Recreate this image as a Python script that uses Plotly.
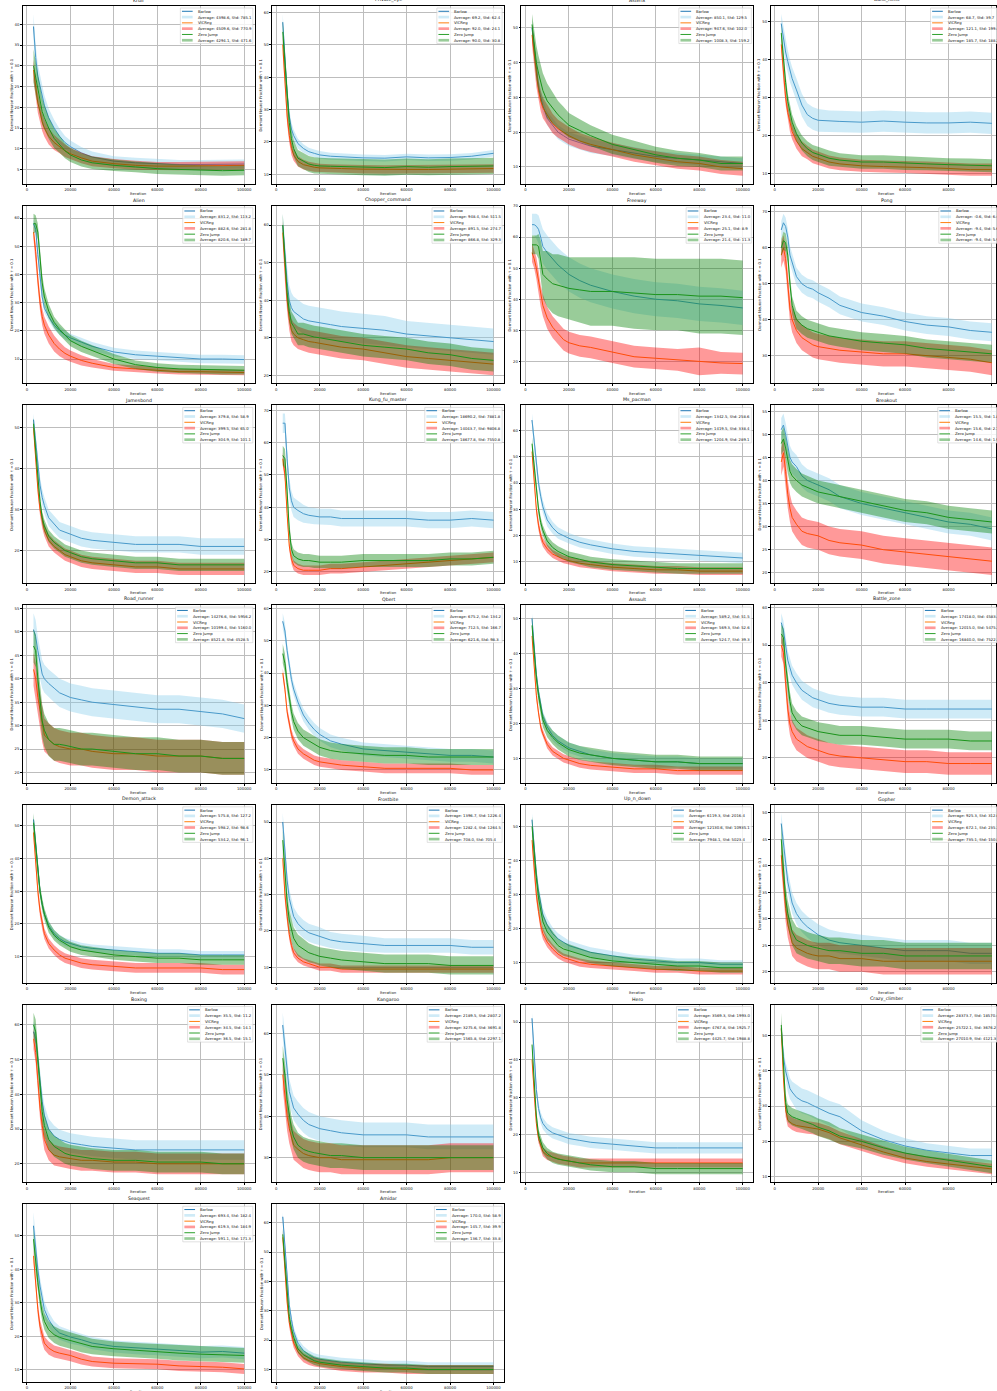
import plotly.graph_objects as go

W, H = 997, 1391

X = [3000, 4000, 5000, 6000, 7000, 8000, 10000, 12500, 15000, 17500,
     20000, 25000, 30000, 40000, 50000, 60000, 70000, 80000, 90000, 100000]
X_TICKS = [0, 20000, 40000, 60000, 80000, 100000]
SERIES = ["Barlow", "VICReg", "Zero Jump"]
LINE_COLORS = ["#1f77b4", "#ff7f0e", "#2ca02c"]
BAND_COLORS = ["rgba(135,206,235,0.4)", "rgba(255,0,0,0.4)", "rgba(0,128,0,0.4)"]
Y_LABEL = "Dormant Neuron Fraction with τ = 0.1"

# ---------------- data (mean curves, std half-widths, legend stats) ----------------
krull_b = [39.5, 32, 27.5, 25, 23, 20.5, 17.5, 15, 13, 11.5, 10.5, 9, 8, 7, 6.6, 6.4, 6.2, 6.2, 6.2, 6.3]
krull_b_sd = [3, 3, 2.8, 2.6, 2.5, 2.4, 2.2, 2, 1.8, 1.6, 1.5, 1.4, 1.3, 1.2, 1.2, 1.1, 1.1, 1.1, 1.1, 1.1]
krull_v = [29, 25, 21, 19, 16.5, 15, 13, 11.5, 10.5, 9.5, 8.8, 7.8, 7, 6.4, 6, 5.8, 5.8, 5.9, 6, 6]
krull_v_sd = [2.5, 2.5, 2.4, 2.3, 2.2, 2.1, 2, 1.8, 1.6, 1.5, 1.4, 1.3, 1.2, 1.1, 1.1, 1, 1, 1, 1, 1]
krull_z = [30, 27, 24, 21.5, 19, 17.5, 15, 12.5, 11, 9.5, 8.5, 7.3, 6.6, 6, 5.6, 5.2, 5, 4.8, 4.7, 4.8]
krull_z_sd = [4, 4, 3.8, 3.5, 3.2, 3, 2.6, 2.3, 2, 1.8, 1.7, 1.6, 1.5, 1.4, 1.3, 1.3, 1.2, 1.2, 1.2, 1.2]
krull_stats = [(4398.6, 785.1), (4509.6, 770.9), (4294.1, 471.6)]

private_eye_b = [57, 45, 35, 28, 24, 22, 19.5, 18, 17, 16.5, 16, 15.6, 15.4, 15.1, 15, 15.4, 15.1, 15.2, 15.6, 16.5]
private_eye_b_sd = [2.5, 2.5, 2.3, 2, 2, 1.8, 1.5, 1.3, 1.2, 1.2, 1.2, 1.1, 1.1, 1, 1, 1, 1, 1, 1, 1]
private_eye_v = [50, 38, 28, 22, 18, 16, 14, 13, 12.5, 12.2, 12, 11.8, 11.8, 11.6, 11.5, 11.6, 11.5, 11.6, 11.7, 11.8]
private_eye_v_sd = [3, 3, 2.5, 2.2, 2, 1.8, 1.6, 1.5, 1.4, 1.4, 1.3, 1.3, 1.3, 1.3, 1.3, 1.3, 1.3, 1.3, 1.3, 1.3]
private_eye_z = [54, 44, 33, 26, 21, 18, 15, 14, 13.2, 12.8, 12.6, 12.5, 12.4, 12.2, 12.1, 12.4, 12.2, 12.4, 12.5, 12.6]
private_eye_z_sd = [3.5, 3.5, 3.3, 3, 2.8, 2.6, 2.5, 2.5, 2.5, 2.5, 2.5, 2.5, 2.5, 2.5, 2.5, 2.5, 2.5, 2.5, 2.5, 2.5]
private_eye_stats = [(69.2, 62.4), (92.0, 24.1), (90.0, 30.8)]

asterix_b = [50, 44, 38, 33, 30, 27.5, 24, 22, 20, 19, 18, 17, 16, 15, 14, 13, 12.5, 12, 11.5, 11]
asterix_b_sd = [2, 2, 2, 2, 2, 2, 2, 2, 2, 2, 2, 2, 2, 1.8, 1.7, 1.6, 1.5, 1.5, 1.5, 1.5]
asterix_v = [48, 42, 36, 32, 29, 27, 25, 22.5, 21, 20, 19, 17.5, 16.5, 15, 13.5, 12.5, 11.5, 11, 10, 9.5]
asterix_v_sd = [3, 3, 3, 3, 3, 3, 3, 2.8, 2.6, 2.5, 2.5, 2.3, 2.2, 2, 2, 2, 2, 2, 2, 2]
asterix_z = [51, 45, 40, 37, 34, 32, 29, 27, 25, 23.5, 22, 20.5, 19, 16.5, 15, 13.5, 12.5, 12, 11, 11]
asterix_z_sd = [3, 4, 5, 5, 5, 5, 5, 4.5, 4, 3.8, 3.5, 3.2, 3, 2.8, 2.5, 2.3, 2.2, 2, 2, 2]
asterix_stats = [(850.1, 129.5), (947.6, 102.0), (1008.3, 159.2)]

bank_heist_b = [49.5, 45.5, 42, 39.5, 37, 35, 32, 28, 25.5, 24.5, 24, 23.8, 23.7, 23.5, 23.8, 23.5, 23.3, 23.3, 23.5, 23.2]
bank_heist_b_sd = [2.5, 3, 3, 3, 3, 3, 3, 3, 3, 3, 3, 2.8, 2.8, 2.8, 2.8, 2.8, 2.8, 2.8, 2.8, 2.8]
bank_heist_v = [44, 36, 30, 26, 23, 21, 18.5, 16.5, 15.5, 14.5, 14, 13, 12.5, 12, 11.8, 11.7, 11.5, 11.3, 11, 11]
bank_heist_v_sd = [2, 2, 2, 2, 2, 2, 2, 2, 1.8, 1.8, 1.8, 1.7, 1.7, 1.6, 1.6, 1.6, 1.6, 1.6, 1.6, 1.6]
bank_heist_z = [47, 40, 34, 29, 26, 23.5, 20.5, 18, 16.5, 15.5, 15, 14, 13.5, 13, 13, 12.7, 12.5, 12.3, 12.2, 12]
bank_heist_z_sd = [2, 2, 2, 2, 2, 2, 2, 2, 2, 2, 2, 2, 1.8, 1.8, 1.8, 1.8, 1.7, 1.7, 1.7, 1.7]
bank_heist_stats = [(68.7, 39.7), (121.1, 199.4), (185.7, 188.2)]

alien_b = [58, 56, 47, 38, 32, 28, 25, 22, 20, 18.5, 17.5, 16, 14.5, 12.5, 11.5, 11, 10.5, 10, 10, 9.8]
alien_b_sd = [1.5, 1.5, 1.5, 1.5, 1.5, 1.5, 1.5, 1.5, 1.5, 1.5, 1.5, 1.5, 1.5, 1.5, 1.5, 1.5, 1.5, 1.5, 1.5, 1.5]
alien_v = [55, 48, 38, 30, 25, 22, 18.5, 15.5, 13.5, 12, 11, 9.5, 8.5, 7, 6.5, 6, 5.5, 5.5, 5.3, 5.2]
alien_v_sd = [2.5, 3, 3, 3, 3, 3, 3, 2.8, 2.5, 2.2, 2, 1.8, 1.5, 1.2, 1.2, 1.1, 1, 1, 1, 1]
alien_z = [58, 58, 55, 45, 37, 32, 27, 23, 20.5, 18.5, 16.5, 14.5, 13, 10, 8, 7, 6.5, 6.3, 6, 6]
alien_z_sd = [3.5, 3, 3, 3, 3, 3, 2.5, 2, 2, 2, 2, 2, 2, 1.8, 1.5, 1.5, 1.5, 1.5, 1.5, 1.5]
alien_stats = [(831.2, 113.2), (882.6, 281.8), (820.6, 189.7)]

chopper_b = [60, 52, 45, 40, 38, 37, 36, 35, 34.5, 34.2, 34, 33.5, 33, 32.5, 32, 31, 30.5, 30, 29.5, 29]
chopper_b_sd = [3, 3.5, 4, 4, 4, 4, 4, 4, 4, 4, 4, 4, 4, 4, 3.8, 3.5, 3.5, 3.5, 3.5, 3.5]
chopper_v = [58, 48, 40, 35, 32, 31, 30, 29.5, 29, 28.8, 28.5, 28, 27.5, 27, 26, 25, 24.5, 24, 23.5, 23]
chopper_v_sd = [3, 3, 3, 3, 3, 3, 3, 3, 3, 3, 3, 3, 3, 3, 3, 3, 3, 3, 3, 3]
chopper_z = [60, 52, 42, 37, 34, 33, 31, 31, 30.5, 30.2, 30, 29.5, 29, 28, 27.5, 27, 26, 25.5, 24.5, 24]
chopper_z_sd = [3, 3, 3, 3, 3, 3, 3, 3, 3, 3, 3, 3, 3, 3, 3, 3, 3, 3, 3, 3]
chopper_stats = [(948.4, 511.5), (891.5, 274.7), (866.8, 329.3)]

freeway_b = [64, 64, 63.5, 62.5, 60, 57, 55, 53, 51, 49.5, 48, 46, 44.5, 42.5, 41, 40, 39.5, 38.5, 38, 37.2]
freeway_b_sd = [3.5, 3.5, 4, 4.5, 5, 5.5, 5.5, 5.5, 5.5, 5.5, 5.5, 5.5, 5.5, 5.5, 5.5, 5.5, 5.5, 5.5, 5.5, 5.5]
freeway_v = [55, 53, 50, 46, 41, 38, 34, 31, 29, 27, 26, 25, 24.5, 23, 21.5, 21, 20.5, 20, 19.5, 19.3]
freeway_v_sd = [3, 3, 3.5, 3.5, 3.5, 3.5, 3.5, 3.5, 3.5, 3.5, 3.5, 3.5, 3.5, 3.5, 3.5, 3.5, 3.5, 4.5, 3.5, 3.5]
freeway_z = [57.5, 57.5, 57.5, 57, 53, 48, 46.5, 45, 44.5, 44, 43.5, 43, 42.5, 42.5, 42, 41.5, 41.5, 41, 41, 40.5]
freeway_z_sd = [3, 3, 3, 4, 6, 7.5, 9, 9.5, 10, 10, 10, 10.5, 11, 11, 11.5, 11.5, 11.5, 12, 12, 12]
freeway_stats = [(23.4, 11.0), (25.1, 8.9), (21.4, 11.3)]

pong_b = [65, 67, 66, 63, 58, 56, 52, 50, 49, 48.5, 47.5, 46, 44, 42, 41, 39.5, 38.5, 38, 37, 36.5]
pong_b_sd = [2.5, 2.5, 2.5, 2.5, 2.5, 2.5, 2.5, 2.5, 2.5, 2.5, 2.5, 2.5, 2.5, 2.5, 2.5, 2.5, 2.5, 2.5, 2.5, 2.5]
pong_v = [58, 60, 57, 50, 43, 40, 37, 35, 34, 33, 32.5, 32, 31.5, 31, 30.5, 30.5, 30, 29.5, 29, 28]
pong_v_sd = [3.5, 3.5, 3.5, 3.5, 3.5, 3.5, 3.5, 3.5, 3.5, 3.5, 3.5, 3.5, 3.5, 3.5, 3.5, 3.5, 3.5, 3.5, 3.5, 3.5]
pong_z = [60, 62, 61.5, 58, 50, 44, 40, 38.5, 37.5, 37, 36.5, 35.5, 35, 34, 33.5, 33, 32, 31.5, 31, 30.5]
pong_z_sd = [2.5, 2.5, 2.5, 2.5, 2.5, 2.5, 2.5, 2.5, 2.5, 2.5, 2.5, 2.5, 2.5, 2.5, 2.5, 2.5, 2.5, 2.5, 2.5, 2.5]
pong_stats = [(-0.6, 6.4), (-9.4, 5.6), (-9.4, 5.9)]

jamesbond_b = [52, 46, 40, 36, 33, 31, 28, 26.5, 25, 24.5, 24, 23, 22.5, 22, 21.5, 21.5, 21.5, 21, 21, 21]
jamesbond_b_sd = [1.5, 2, 2, 2, 2, 2, 2, 2, 2, 2, 2, 2, 2, 2, 2, 2, 2, 2, 2, 2]
jamesbond_v = [50, 42, 35, 30, 27, 25, 22.5, 21, 20, 19, 18.5, 17.5, 17, 16.5, 16, 16, 15.5, 15.5, 15.5, 15.5]
jamesbond_v_sd = [1.5, 1.5, 1.5, 1.5, 1.5, 1.5, 1.5, 1.5, 1.5, 1.5, 1.5, 1.5, 1.5, 1.5, 1.5, 1.5, 1.5, 1.5, 1.5, 1.5]
jamesbond_z = [51, 44, 37, 32, 28, 26, 23.5, 22, 21, 20, 19.5, 18.5, 18, 17.5, 17, 17, 16.5, 16.5, 16.5, 16.5]
jamesbond_z_sd = [1.5, 1.5, 1.5, 1.5, 1.5, 1.5, 1.5, 1.5, 1.5, 1.5, 1.5, 1.5, 1.5, 1.5, 1.5, 1.5, 1.5, 1.5, 1.5, 1.5]
jamesbond_stats = [(379.8, 58.9), (399.5, 65.0), (304.9, 101.1)]

kungfu_b = [66, 66, 55, 46, 42, 40, 39, 38, 37.5, 37.2, 37, 37, 36.5, 36.5, 36.5, 36.5, 36, 36, 36.5, 36]
kungfu_b_sd = [3, 3, 3, 3, 3, 3, 3, 2.8, 2.5, 2.5, 2.5, 2.5, 2.5, 2.5, 2.5, 2.5, 2.5, 2.5, 2.5, 2.5]
kungfu_v = [55, 50, 38, 28, 24, 22, 21, 20.5, 20.5, 20.5, 20.5, 21, 21, 21.5, 22, 22.5, 23, 23.5, 24, 24.5]
kungfu_v_sd = [2, 2, 2, 1.5, 1.5, 1.5, 1.5, 1.5, 1.5, 1.5, 1.5, 1.5, 1.5, 1.5, 1.5, 1.5, 1.5, 1.5, 1.5, 1.5]
kungfu_z = [56, 55, 45, 33, 27, 25, 24, 23.5, 23.5, 23.2, 23, 23, 23, 23.5, 23.5, 23.5, 23.5, 24, 24, 24.5]
kungfu_z_sd = [3, 3, 3, 2.5, 2, 2, 2, 2, 2, 2, 2, 2, 2, 2, 2, 2, 2, 2, 2, 2]
kungfu_stats = [(18690.2, 7881.8), (14043.7, 9806.8), (18677.8, 7550.8)]

ms_pacman_b = [64, 56, 47, 40, 35, 31, 26, 23, 21, 20, 19, 17.5, 16.5, 15, 14, 13.5, 13, 12.5, 12, 11.5]
ms_pacman_b_sd = [2.5, 2.5, 2.5, 2.5, 2.5, 2.5, 2.5, 2.3, 2.2, 2.1, 2, 2, 2, 2, 2, 2, 2, 2, 2, 2]
ms_pacman_v = [52, 40, 30, 24, 20, 17.5, 15, 13, 12, 11, 10.5, 9.5, 9, 8, 7.5, 7, 7, 6.5, 6.5, 6.5]
ms_pacman_v_sd = [2.5, 2.5, 2, 2, 1.8, 1.7, 1.6, 1.5, 1.5, 1.5, 1.5, 1.5, 1.5, 1.5, 1.5, 1.5, 1.5, 1.5, 1.5, 1.5]
ms_pacman_z = [55, 46, 37, 30, 25, 22, 18, 15.5, 14, 13, 12, 11, 10, 9, 8.5, 8, 7.5, 7.5, 7.5, 7.5]
ms_pacman_z_sd = [2.5, 2.5, 2.5, 2.2, 2, 2, 2, 2, 2, 2, 2, 2, 2, 2, 2, 2, 2, 2, 2, 2]
ms_pacman_stats = [(1342.5, 258.6), (1419.5, 338.4), (1204.9, 289.1)]

breakout_b = [51, 52, 50, 47, 45, 44, 43, 41, 40, 39.5, 39, 38, 36.5, 35, 34, 33, 32, 31, 30.5, 29.5]
breakout_b_sd = [2.5, 2.5, 2.5, 2.5, 2.5, 2.5, 2.5, 2.5, 2.5, 2.5, 2.5, 2.5, 2.5, 2.5, 2.5, 2.5, 2.5, 2.5, 2.5, 2.5]
breakout_v = [44, 46, 42, 37, 34, 32, 30.5, 29, 28.5, 28.2, 28, 27, 26.5, 26, 25, 24.5, 24, 23.5, 23, 22.5]
breakout_v_sd = [3, 3, 3, 3, 3, 3, 3, 3, 3, 3, 3, 3, 3, 3, 3, 3, 3, 3, 3, 3]
breakout_z = [48, 49, 47, 44, 42, 41, 40, 39, 38.5, 38, 37.5, 37, 36.5, 35.5, 34.5, 33.5, 33, 32, 31.5, 31]
breakout_z_sd = [2.5, 2.5, 2.5, 2.5, 2.5, 2.5, 2.5, 2.5, 2.5, 2.5, 2.5, 2.5, 2.5, 2.5, 2.5, 2.5, 2.5, 2.5, 2.5, 2.5]
breakout_stats = [(15.5, 1.8), (15.6, 2.1), (14.6, 1.9)]

road_runner_b = [50.5, 49, 46, 43, 41, 40, 39, 38, 37, 36.5, 36, 35.5, 35, 34.5, 34, 33.5, 33.5, 33, 32.5, 31.5]
road_runner_b_sd = [3.5, 3.5, 3, 3, 3, 3, 3, 3, 3, 3, 3, 3, 3, 3, 3, 3, 3, 3, 3, 3]
road_runner_v = [42, 40, 36, 33, 30, 28, 27, 26, 25.5, 25.2, 25, 25, 24.5, 24, 24, 23.5, 23.5, 23.5, 23, 23]
road_runner_v_sd = [3.5, 3.5, 3.5, 3.5, 3.5, 3.5, 3.5, 3.5, 3.5, 3.5, 3.5, 3.5, 3.5, 3.5, 3.5, 3.5, 3.5, 3.5, 3.5, 3.5]
road_runner_z = [47, 46, 40, 35, 31, 29, 27, 26, 26, 25.8, 25.5, 25, 25, 24.5, 24, 24, 23.5, 23.5, 23, 23]
road_runner_z_sd = [3.5, 3.5, 3.5, 3.5, 3.5, 3.5, 3.5, 3.5, 3.5, 3.5, 3.5, 3.5, 3.5, 3.5, 3.5, 3.5, 3.5, 3.5, 3.5, 3.5]
road_runner_stats = [(14276.6, 5956.2), (10199.4, 5160.0), (8521.8, 4528.5)]

qbert_b = [56, 53, 47, 42, 38, 35, 31, 27, 24.5, 22.5, 21, 19, 18, 16.5, 16, 15.5, 15, 14.5, 14.5, 14]
qbert_b_sd = [2.5, 2.5, 2, 2, 2, 2, 2, 2, 2, 2, 2, 2, 2, 2, 2, 2, 2, 2, 2, 2]
qbert_v = [40, 35, 28, 24, 21, 19, 16.5, 15, 14, 13, 12.5, 12, 11.5, 11, 10.5, 10.5, 10.5, 10.5, 10, 10]
qbert_v_sd = [1.5, 1.5, 1.5, 1.5, 1.5, 1.5, 1.5, 1.5, 1.5, 1.5, 1.5, 1.5, 1.5, 1.5, 1.5, 1.5, 1.5, 1.5, 1.5, 1.5]
qbert_z = [46, 43, 37, 32, 28, 25, 22, 20, 19, 18, 17, 16, 15.5, 15, 14.5, 14.5, 14, 14, 14, 14]
qbert_z_sd = [3, 3, 2.5, 2.5, 2.5, 2.5, 2.5, 2.5, 2.5, 2.5, 2.5, 2.5, 2.5, 2.5, 2.5, 2.5, 2.5, 2.5, 2.5, 2.5]
qbert_stats = [(675.2, 134.2), (712.5, 166.7), (621.6, 98.3)]

assault_b = [50, 42, 34, 29, 25, 22, 19, 16.5, 15, 14, 13, 12, 11, 10, 9.5, 9, 9, 8.5, 8.5, 8.5]
assault_b_sd = [1.5, 1.5, 1.5, 1.5, 1.5, 1.5, 1.5, 1.5, 1.5, 1.5, 1.5, 1.5, 1.5, 1.5, 1.5, 1.5, 1.5, 1.5, 1.5, 1.5]
assault_v = [45, 36, 28, 23, 19, 17, 14, 12, 11, 10, 9.5, 8.5, 8, 7.5, 7, 7, 6.5, 6.5, 6.5, 6.5]
assault_v_sd = [1.5, 1.5, 1.5, 1.2, 1.2, 1.2, 1.2, 1.2, 1.2, 1.2, 1.2, 1.2, 1.2, 1.2, 1.2, 1.2, 1.2, 1.2, 1.2, 1.2]
assault_z = [48, 40, 33, 28, 24, 21, 18, 16, 14.5, 13.5, 12.5, 11.5, 11, 10, 9.5, 9, 9, 8.5, 8.5, 8.5]
assault_z_sd = [2.5, 2.5, 2.2, 2, 2, 2, 2, 2, 2, 2, 2, 2, 2, 2, 2, 2, 2, 2, 2, 2]
assault_stats = [(589.2, 51.5), (569.3, 52.6), (524.7, 39.3)]

battle_zone_b = [56, 54, 50, 46, 44, 42, 40, 38, 37, 36, 35.5, 34.5, 34, 33.5, 33.5, 33, 33, 33, 33, 33]
battle_zone_b_sd = [2.5, 2.5, 2.5, 2.5, 2.5, 2.5, 2.5, 2.5, 2.5, 2.5, 2.5, 2.5, 2.5, 2.5, 2.5, 2.5, 2.5, 2.5, 2.5, 2.5]
battle_zone_v = [50, 48, 40, 33, 29, 27, 25, 24, 23, 22.5, 22, 21, 20.5, 20, 19.5, 19, 19, 18.5, 18.5, 18.5]
battle_zone_v_sd = [3, 3, 3, 3, 3, 3, 3, 3, 3, 3, 3, 3, 3, 3, 3, 3, 3, 3, 3, 3]
battle_zone_z = [53, 52, 45, 39, 35, 32, 30, 28.5, 28, 27.5, 27, 26.5, 26, 26, 25.5, 25, 25, 25, 24.5, 24.5]
battle_zone_z_sd = [2.5, 2.5, 2.5, 2.5, 2.5, 2.5, 2.5, 2.5, 2.5, 2.5, 2.5, 2.5, 2.5, 2.5, 2.5, 2.5, 2.5, 2.5, 2.5, 2.5]
battle_zone_stats = [(17418.0, 4583.4), (12015.0, 5475.2), (16840.0, 7522.1)]

demon_attack_b = [52, 44, 36, 30, 26, 23, 19.5, 17, 15.5, 14.5, 14, 13, 12.5, 12, 11.5, 11, 11, 10.5, 10.5, 10.5]
demon_attack_b_sd = [1.5, 1.5, 1.5, 1.3, 1.2, 1.2, 1.2, 1.2, 1.2, 1.2, 1.2, 1.2, 1.2, 1.2, 1.2, 1.2, 1.2, 1.2, 1.2, 1.2]
demon_attack_v = [48, 38, 30, 24, 20, 17, 14, 12, 10.5, 9.5, 9, 8, 7.5, 7, 6.5, 6.5, 6.5, 6.5, 6, 6]
demon_attack_v_sd = [2, 2, 2, 1.8, 1.7, 1.6, 1.5, 1.5, 1.5, 1.5, 1.5, 1.5, 1.5, 1.5, 1.5, 1.5, 1.5, 1.5, 1.5, 1.5]
demon_attack_z = [51, 44, 36, 30, 26, 23, 19, 16.5, 15, 14, 13, 12, 11.5, 10.5, 10, 9.5, 9.5, 9, 9, 9]
demon_attack_z_sd = [3, 3, 2.5, 2, 2, 1.8, 1.7, 1.6, 1.5, 1.5, 1.5, 1.5, 1.5, 1.5, 1.5, 1.5, 1.5, 1.5, 1.5, 1.5]
demon_attack_stats = [(575.8, 127.2), (598.2, 98.6), (534.2, 96.1)]

frostbite_b = [50, 42, 34, 29, 26, 24, 22, 20.5, 19.5, 19, 18.5, 17.5, 17, 16.5, 16, 16, 16, 16, 15.5, 15.5]
frostbite_b_sd = [2.5, 2.5, 2.5, 2.5, 2.5, 2.5, 2.5, 2.5, 2.5, 2.5, 2.5, 2.2, 2.2, 2.2, 2, 2, 2, 2, 2, 2]
frostbite_v = [40, 30, 24, 19, 16, 14, 12.5, 11.5, 11, 10.5, 10, 10, 9.5, 9.5, 9.5, 9.5, 9.5, 9.5, 9.5, 9.5]
frostbite_v_sd = [2, 2, 1.8, 1.5, 1.3, 1.2, 1.1, 1, 1, 1, 1, 1, 1, 1, 1, 1, 1, 1, 1, 1]
frostbite_z = [45, 36, 28, 23, 20, 18, 16, 15, 14, 13.5, 13, 12.5, 12, 11.5, 11, 11, 11, 10.5, 10.5, 10.5]
frostbite_z_sd = [3, 3, 3, 3, 3, 3, 3, 2.8, 2.6, 2.5, 2.5, 2.5, 2.5, 2.5, 2.5, 2.5, 2.5, 2.5, 2.5, 2.5]
frostbite_stats = [(1396.7, 1226.4), (1282.4, 1264.5), (708.0, 705.4)]

up_n_down_b = [52, 43, 36, 31, 27, 24, 21, 18.5, 17, 16, 15, 14, 13, 12, 11, 10.5, 10, 10, 9.5, 9.5]
up_n_down_b_sd = [2, 2, 2, 2, 2, 2, 2, 1.8, 1.6, 1.5, 1.5, 1.5, 1.5, 1.4, 1.3, 1.3, 1.2, 1.2, 1.2, 1.2]
up_n_down_v = [46, 37, 30, 25, 21, 18.5, 16, 14, 12.5, 11.5, 11, 10, 9.5, 9, 8.5, 8, 8, 7.5, 7.5, 7.5]
up_n_down_v_sd = [2, 2, 2, 1.8, 1.7, 1.6, 1.5, 1.4, 1.3, 1.2, 1.2, 1.2, 1.1, 1.1, 1, 1, 1, 1, 1, 1]
up_n_down_z = [50, 42, 35, 29, 25, 22, 19, 17, 15, 14, 13.5, 12.5, 11.5, 10.5, 10, 9.5, 9, 9, 8.5, 8.5]
up_n_down_z_sd = [3, 3, 3, 3, 2.8, 2.6, 2.4, 2.2, 2, 2, 2, 1.8, 1.7, 1.6, 1.5, 1.5, 1.5, 1.5, 1.5, 1.5]
up_n_down_stats = [(6119.3, 2016.4), (12130.6, 10935.1), (7948.1, 5023.4)]

gopher_b = [48, 44, 40, 37, 35, 33, 31, 29.5, 28.5, 27.7, 27, 26, 25.5, 25, 24.5, 24, 24, 24, 23.5, 23.5]
gopher_b_sd = [2, 2, 2, 2, 2, 2, 2, 2, 2, 2, 2, 2, 2, 2, 2, 2, 2, 2, 2, 2]
gopher_v = [42, 37, 32, 29, 27, 25.5, 24.5, 24, 23.5, 23.2, 23, 23, 22.5, 22.5, 22, 22, 22, 22, 22, 22]
gopher_v_sd = [2.5, 2.5, 2.5, 2.5, 2.5, 2.5, 2.5, 2.5, 2.5, 2.5, 2.5, 2.5, 2.5, 2.5, 2.5, 2.5, 2.5, 2.5, 2.5, 2.5]
gopher_z = [45, 40, 34, 31, 29, 27.5, 26, 25.5, 25, 24.7, 24.5, 24, 24, 23.5, 23.5, 23, 23, 23, 23, 23]
gopher_z_sd = [3, 3, 2.5, 2.5, 2.5, 2.5, 2.5, 2.5, 2.5, 2.5, 2.5, 2.5, 2.5, 2.5, 2.5, 2.5, 2.5, 2.5, 2.5, 2.5]
gopher_stats = [(925.3, 312.6), (672.1, 235.3), (735.1, 150.8)]

boxing_b = [58, 56, 50, 43, 38, 34, 30, 28, 27, 26.5, 26, 25.5, 25, 24.5, 24, 24, 24, 24, 24, 24]
boxing_b_sd = [3, 3, 3, 3, 3, 3, 3, 3, 2.8, 2.8, 2.8, 2.8, 2.8, 2.8, 2.8, 2.8, 2.8, 2.8, 2.8, 2.8]
boxing_v = [56, 52, 44, 36, 31, 27, 24, 22.5, 22, 21.8, 21.5, 21, 21, 20.5, 20.5, 20, 20, 20, 20, 20]
boxing_v_sd = [3, 3, 3, 3, 3, 3, 3, 3, 3, 3, 3, 3, 3, 3, 3, 3, 3, 3, 3, 3]
boxing_z = [60, 58, 50, 42, 35, 31, 27, 25, 24, 23, 22.5, 22, 21.5, 21, 21, 20.5, 20.5, 20.5, 20, 20]
boxing_z_sd = [3.5, 3.5, 3.5, 3.5, 3.5, 3.2, 3, 3, 3, 3, 3, 3, 3, 3, 3, 3, 3, 3, 3, 3]
boxing_stats = [(35.5, 11.2), (34.5, 14.1), (36.5, 15.1)]

kangaroo_b = [62, 56, 50, 46, 44, 42, 40.5, 39, 38, 37.5, 37, 36.5, 36, 35.5, 35.5, 35.5, 35, 35, 35, 35]
kangaroo_b_sd = [3, 3, 3, 3, 3, 3, 3, 3, 3, 3, 3, 3, 3, 3, 3, 3, 3, 3, 3, 3]
kangaroo_v = [50, 45, 40, 37, 35, 33, 32, 31, 30.5, 30.2, 30, 30, 29.5, 29.5, 29.5, 29.5, 29.5, 30, 30, 30]
kangaroo_v_sd = [3.5, 3.5, 3.5, 3.5, 3.5, 3.5, 3.5, 3.5, 3.5, 3.5, 3.5, 3.5, 3.5, 3.5, 3.5, 3.5, 3.5, 3.5, 3.5, 3.5]
kangaroo_z = [54, 50, 44, 40, 37, 35, 33, 32, 31.5, 31.2, 31, 30.5, 30.5, 30, 30, 30, 30, 30, 30, 30]
kangaroo_z_sd = [3, 3, 3, 3, 3, 3, 3, 3, 3, 3, 3, 3, 3, 3, 3, 3, 3, 3, 3, 3]
kangaroo_stats = [(2189.5, 2807.2), (3275.6, 3691.8), (1565.8, 2297.1)]

hero_b = [51, 40, 32, 27, 24.5, 23, 21.5, 20.5, 20, 19.5, 19, 18.5, 18, 17.5, 17, 16.5, 16.5, 16.5, 16.5, 16.5]
hero_b_sd = [1.5, 1.5, 1.5, 1.5, 1.5, 1.5, 1.5, 1.5, 1.5, 1.5, 1.5, 1.5, 1.5, 1.5, 1.5, 1.5, 1.5, 1.5, 1.5, 1.5]
hero_v = [40, 30, 23, 19, 17, 15.5, 14.5, 14, 13.5, 13.2, 13, 12.5, 12.5, 12.5, 12.5, 12.5, 12.5, 12.5, 12.5, 12.5]
hero_v_sd = [1.2, 1.2, 1.2, 1.2, 1.2, 1.2, 1.2, 1.2, 1.2, 1.2, 1.2, 1.2, 1.2, 1.2, 1.2, 1.2, 1.2, 1.2, 1.2, 1.2]
hero_z = [44, 33, 25, 20, 18, 16.5, 15, 14, 13.5, 13.2, 13, 12.5, 12, 11.5, 11.5, 11, 11, 11, 11, 11]
hero_z_sd = [1.5, 1.5, 1.5, 1.5, 1.5, 1.5, 1.5, 1.5, 1.5, 1.5, 1.5, 1.5, 1.5, 1.5, 1.5, 1.5, 1.5, 1.5, 1.5, 1.5]
hero_stats = [(3569.3, 1993.0), (4767.8, 1925.7), (4425.7, 1988.8)]

crazy_climber_b = [52, 44, 40, 37, 35, 34, 32.5, 31.5, 31, 30.2, 29.5, 28, 27, 23, 20.5, 18.7, 17.5, 16.7, 16, 16]
crazy_climber_b_sd = [2, 2.5, 2.5, 3, 3, 3, 3.5, 3.5, 3.5, 3.5, 3.5, 3.5, 3.5, 3, 2.5, 2.2, 2, 2, 2, 2]
crazy_climber_v = [52, 38, 29, 26, 25.5, 25, 24.5, 24.2, 24, 23.8, 23.5, 22.5, 21, 19, 17, 15.3, 14.3, 13.6, 13, 12.2]
crazy_climber_v_sd = [2, 2, 2, 1.8, 1.8, 1.8, 1.8, 1.8, 1.8, 1.8, 1.8, 1.8, 1.8, 1.7, 1.6, 1.5, 1.5, 1.5, 1.5, 1.5]
crazy_climber_z = [53, 42, 31, 28, 27.5, 27, 26.5, 26, 25.5, 24.8, 24, 23, 21.5, 20, 18.2, 16.7, 15.6, 14.7, 13.7, 12.8]
crazy_climber_z_sd = [3.5, 3, 2.5, 2.5, 2.5, 2.5, 2.5, 2.5, 2.5, 2.5, 2.5, 2.5, 2.2, 2, 2, 1.8, 1.8, 1.8, 1.8, 1.8]
crazy_climber_stats = [(28373.7, 18570.4), (25722.1, 3676.2), (27010.9, 4121.3)]

seaquest_b = [53, 46, 40, 35, 31, 28, 25, 22.5, 21, 20.3, 19.8, 19, 18, 17, 16.5, 16.2, 15.8, 15.3, 15.5, 15]
seaquest_b_sd = [4, 3, 2.5, 2.5, 2.5, 2.5, 2.2, 2, 2, 2, 2, 1.8, 1.8, 1.8, 1.8, 1.8, 1.8, 1.8, 1.8, 1.8]
seaquest_v = [44, 35, 28, 23, 20, 18, 16.5, 15.5, 15, 14.6, 14.3, 13.2, 12.5, 12, 11.8, 11.7, 11.2, 11, 10.8, 10.3]
seaquest_v_sd = [2, 2, 2, 2, 2, 2, 2, 1.8, 1.8, 1.7, 1.7, 1.6, 1.5, 1.5, 1.5, 1.5, 1.5, 1.5, 1.5, 1.5]
seaquest_z = [49, 42, 36, 31, 27, 24.5, 22, 20.5, 19.7, 19.2, 18.8, 17.8, 17, 16.3, 15.8, 15.5, 15, 14.7, 14.5, 14.3]
seaquest_z_sd = [3, 3, 2.8, 2.6, 2.5, 2.5, 2.5, 2.5, 2.5, 2.5, 2.5, 2.5, 2.3, 2.2, 2.2, 2.2, 2.2, 2.2, 2.2, 2.2]
seaquest_stats = [(693.4, 182.4), (619.3, 184.9), (591.1, 171.3)]

amidar_b = [62, 52, 40, 32, 27, 23, 19, 16.5, 15, 14, 13.5, 13, 12.5, 12, 11.5, 11.5, 11, 11, 11, 11]
amidar_b_sd = [1.5, 1.5, 1.5, 1.5, 1.5, 1.5, 1.5, 1.5, 1.5, 1.5, 1.5, 1.5, 1.5, 1.5, 1.5, 1.5, 1.5, 1.5, 1.5, 1.5]
amidar_v = [55, 44, 33, 26, 22, 19, 16, 14, 13, 12.5, 12, 11.5, 11, 10.5, 10.5, 10, 10, 10, 10, 10]
amidar_v_sd = [2, 2, 2, 1.8, 1.6, 1.5, 1.5, 1.5, 1.5, 1.5, 1.5, 1.5, 1.5, 1.5, 1.5, 1.5, 1.5, 1.5, 1.5, 1.5]
amidar_z = [56, 46, 36, 28, 24, 21, 17, 15, 14, 13, 12.5, 12, 11.5, 11, 10.5, 10.5, 10, 10, 10, 10]
amidar_z_sd = [2, 2, 2, 1.8, 1.6, 1.5, 1.5, 1.5, 1.5, 1.5, 1.5, 1.5, 1.5, 1.5, 1.5, 1.5, 1.5, 1.5, 1.5, 1.5]
amidar_stats = [(170.0, 58.9), (145.7, 39.9), (136.7, 33.8)]

# (title, series means, series stds, legend stats, y tick step)
GAMES = [
    ("Krull", [krull_b, krull_v, krull_z], [krull_b_sd, krull_v_sd, krull_z_sd], krull_stats, 5),
    ("Private_eye", [private_eye_b, private_eye_v, private_eye_z], [private_eye_b_sd, private_eye_v_sd, private_eye_z_sd], private_eye_stats, 10),
    ("Asterix", [asterix_b, asterix_v, asterix_z], [asterix_b_sd, asterix_v_sd, asterix_z_sd], asterix_stats, 10),
    ("Bank_heist", [bank_heist_b, bank_heist_v, bank_heist_z], [bank_heist_b_sd, bank_heist_v_sd, bank_heist_z_sd], bank_heist_stats, 10),
    ("Alien", [alien_b, alien_v, alien_z], [alien_b_sd, alien_v_sd, alien_z_sd], alien_stats, 10),
    ("Chopper_command", [chopper_b, chopper_v, chopper_z], [chopper_b_sd, chopper_v_sd, chopper_z_sd], chopper_stats, 10),
    ("Freeway", [freeway_b, freeway_v, freeway_z], [freeway_b_sd, freeway_v_sd, freeway_z_sd], freeway_stats, 10),
    ("Pong", [pong_b, pong_v, pong_z], [pong_b_sd, pong_v_sd, pong_z_sd], pong_stats, 10),
    ("Jamesbond", [jamesbond_b, jamesbond_v, jamesbond_z], [jamesbond_b_sd, jamesbond_v_sd, jamesbond_z_sd], jamesbond_stats, 10),
    ("Kung_fu_master", [kungfu_b, kungfu_v, kungfu_z], [kungfu_b_sd, kungfu_v_sd, kungfu_z_sd], kungfu_stats, 10),
    ("Ms_pacman", [ms_pacman_b, ms_pacman_v, ms_pacman_z], [ms_pacman_b_sd, ms_pacman_v_sd, ms_pacman_z_sd], ms_pacman_stats, 10),
    ("Breakout", [breakout_b, breakout_v, breakout_z], [breakout_b_sd, breakout_v_sd, breakout_z_sd], breakout_stats, 5),
    ("Road_runner", [road_runner_b, road_runner_v, road_runner_z], [road_runner_b_sd, road_runner_v_sd, road_runner_z_sd], road_runner_stats, 5),
    ("Qbert", [qbert_b, qbert_v, qbert_z], [qbert_b_sd, qbert_v_sd, qbert_z_sd], qbert_stats, 10),
    ("Assault", [assault_b, assault_v, assault_z], [assault_b_sd, assault_v_sd, assault_z_sd], assault_stats, 10),
    ("Battle_zone", [battle_zone_b, battle_zone_v, battle_zone_z], [battle_zone_b_sd, battle_zone_v_sd, battle_zone_z_sd], battle_zone_stats, 10),
    ("Demon_attack", [demon_attack_b, demon_attack_v, demon_attack_z], [demon_attack_b_sd, demon_attack_v_sd, demon_attack_z_sd], demon_attack_stats, 10),
    ("Frostbite", [frostbite_b, frostbite_v, frostbite_z], [frostbite_b_sd, frostbite_v_sd, frostbite_z_sd], frostbite_stats, 10),
    ("Up_n_down", [up_n_down_b, up_n_down_v, up_n_down_z], [up_n_down_b_sd, up_n_down_v_sd, up_n_down_z_sd], up_n_down_stats, 10),
    ("Gopher", [gopher_b, gopher_v, gopher_z], [gopher_b_sd, gopher_v_sd, gopher_z_sd], gopher_stats, 5),
    ("Boxing", [boxing_b, boxing_v, boxing_z], [boxing_b_sd, boxing_v_sd, boxing_z_sd], boxing_stats, 10),
    ("Kangaroo", [kangaroo_b, kangaroo_v, kangaroo_z], [kangaroo_b_sd, kangaroo_v_sd, kangaroo_z_sd], kangaroo_stats, 10),
    ("Hero", [hero_b, hero_v, hero_z], [hero_b_sd, hero_v_sd, hero_z_sd], hero_stats, 10),
    ("Crazy_climber", [crazy_climber_b, crazy_climber_v, crazy_climber_z], [crazy_climber_b_sd, crazy_climber_v_sd, crazy_climber_z_sd], crazy_climber_stats, 10),
    ("Seaquest", [seaquest_b, seaquest_v, seaquest_z], [seaquest_b_sd, seaquest_v_sd, seaquest_z_sd], seaquest_stats, 10),
    ("Amidar", [amidar_b, amidar_v, amidar_z], [amidar_b_sd, amidar_v_sd, amidar_z_sd], amidar_stats, 10),
]

# ---------------- style / geometry ----------------
FONT = "DejaVu Sans"
FS_TICK = 3.8
FS_LEG = 3.8
FS_TITLE = 4.7
COL_LEFT0, COL_PITCH, AX_W = 23.0, 249.5, 232.0
ROW_TOP0, ROW_PITCH, AX_H = 4.0, 200.0, 178.0
X_RANGE = [-1850.0, 104850.0]


def px(x):
    return x / W


def py(y):
    return 1 - y / H


CW = {".": 0.318, ",": 0.318, ":": 0.337, " ": 0.318, "-": 0.361}


def text_w(s, fs):
    w = 0.0
    for ch in s:
        if ch.isdigit():
            w += 0.636
        elif ch in CW:
            w += CW[ch]
        elif ch.isupper():
            w += 0.68
        else:
            w += 0.58
    return w * fs


fig = go.Figure()
annotations = []
shapes = []
layout_axes = {}

for i, (title, means, sds, stats, dtick) in enumerate(GAMES):
    r, c = divmod(i, 4)
    left = COL_LEFT0 + COL_PITCH * c
    right_full = left + AX_W
    right = min(right_full, W)
    top = ROW_TOP0 + ROW_PITCH * r
    bottom = top + AX_H
    xr = list(X_RANGE)
    if right_full > W:
        xr[1] = X_RANGE[0] + (X_RANGE[1] - X_RANGE[0]) * (W - left) / AX_W

    sfx = "" if i == 0 else str(i + 1)
    lo_all, hi_all = 1e9, -1e9
    for s in range(3):
        m, sd = means[s], sds[s]
        up = [a + e for a, e in zip(m, sd)]
        lo = [a - e for a, e in zip(m, sd)]
        lo_all = min(lo_all, min(lo))
        hi_all = max(hi_all, max(up))
        fig.add_trace(go.Scatter(
            x=X, y=m, mode="lines", line=dict(color=LINE_COLORS[s], width=1.0),
            xaxis="x" + sfx, yaxis="y" + sfx, showlegend=False, hoverinfo="skip"))
        fig.add_trace(go.Scatter(
            x=X + X[::-1], y=up + lo[::-1], mode="lines", fill="toself",
            fillcolor=BAND_COLORS[s], line=dict(width=0),
            xaxis="x" + sfx, yaxis="y" + sfx, showlegend=False, hoverinfo="skip"))
    pad = 0.05 * (hi_all - lo_all)
    yr = [lo_all - pad, hi_all + pad]

    common = dict(showgrid=True, gridcolor="#bdbdbd", gridwidth=1.3, zeroline=False,
                  showline=True, mirror=True, linecolor="black", linewidth=1,
                  ticks="outside", ticklen=1.8, tickwidth=0.6, tickcolor="black",
                  tickfont=dict(family=FONT, size=FS_TICK, color="#111"))
    layout_axes["xaxis" + sfx] = dict(domain=[px(left), px(right)], range=xr,
                                      anchor="y" + sfx, tickvals=X_TICKS,
                                      ticktext=[str(t) for t in X_TICKS], **common)
    layout_axes["yaxis" + sfx] = dict(domain=[py(bottom), py(top)], range=yr,
                                      anchor="x" + sfx, dtick=dtick, tick0=0, **common)

    cx = (left + right_full) / 2
    annotations.append(dict(text=title, x=px(cx), y=py(top - 0.8), xref="paper", yref="paper",
                            xanchor="center", yanchor="bottom", showarrow=False,
                            font=dict(family=FONT, size=FS_TITLE, color="#111")))
    annotations.append(dict(text="Iteration", x=px(cx), y=py(bottom + 9.6), xref="paper", yref="paper",
                            xanchor="center", yanchor="middle", showarrow=False,
                            font=dict(family=FONT, size=FS_TICK, color="#111")))
    annotations.append(dict(text=Y_LABEL, x=px(left - 11.5), y=py((top + bottom) / 2),
                            xref="paper", yref="paper", xanchor="center", yanchor="middle",
                            textangle=-90, showarrow=False,
                            font=dict(family=FONT, size=FS_TICK, color="#111")))

    # legend (matplotlib-style box in the upper right)
    labels = []
    for s in range(3):
        labels.append(SERIES[s])
        labels.append("Average: %.1f, Std: %.1f" % stats[s])
    tw = max(text_w(t, FS_LEG) for t in labels)
    b_right = right_full - 1.9
    b_w = 15.6 + tw + 2.6
    b_left = b_right - b_w
    b_top = top + 2.0
    row_h = 5.8
    b_bot = b_top + 2 * 3.3 + 5 * row_h
    shapes.append(dict(type="rect", xref="paper", yref="paper",
                       x0=px(b_left), x1=px(b_right), y0=py(b_bot), y1=py(b_top),
                       fillcolor="rgba(255,255,255,0.8)", line=dict(color="#cccccc", width=0.6),
                       layer="above"))
    for k, t in enumerate(labels):
        yc = b_top + 3.3 + k * row_h
        s = k // 2
        if k % 2 == 0:
            shapes.append(dict(type="line", xref="paper", yref="paper",
                               x0=px(b_left + 1.6), x1=px(b_left + 12.3), y0=py(yc), y1=py(yc),
                               line=dict(color=LINE_COLORS[s], width=1.0), layer="above"))
        else:
            shapes.append(dict(type="rect", xref="paper", yref="paper",
                               x0=px(b_left + 1.6), x1=px(b_left + 12.3),
                               y0=py(yc + 1.35), y1=py(yc - 1.35),
                               fillcolor=BAND_COLORS[s], line=dict(width=0), layer="above"))
        annotations.append(dict(text=t, x=px(b_left + 15.6), y=py(yc), xref="paper", yref="paper",
                                xanchor="left", yanchor="middle", showarrow=False,
                                font=dict(family=FONT, size=FS_LEG, color="#111")))

fig.update_layout(
    width=W, height=H, margin=dict(l=0, r=0, t=0, b=0),
    paper_bgcolor="white", plot_bgcolor="white", showlegend=False,
    annotations=annotations, shapes=shapes, **layout_axes)

fig.write_html("out.html", config={"displayModeBar": False},
               post_script="document.body.style.margin='0px';document.body.style.overflow='hidden';")
